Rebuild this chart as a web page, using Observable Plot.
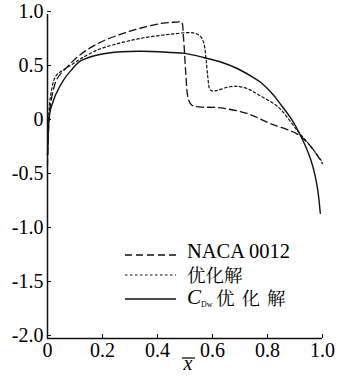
<!DOCTYPE html>
<html>
<head>
<meta charset="utf-8">
<script src="https://cdn.jsdelivr.net/npm/d3@7"></script>
<script src="https://cdn.jsdelivr.net/npm/@observablehq/plot@0.6"></script>
<style>
  body { margin: 0; background: white; }
  #wrap { position: relative; width: 346px; height: 376px; overflow: hidden; background: white; }
  #legend { position: absolute; left: 0; top: 0; }
</style>
</head>
<body>
<div id="wrap"></div>
<script>
// ---- data ----
const xTicks = [0, 0.2, 0.4, 0.6, 0.8, 1.0];
const xTickLabels = ["0", "0.2", "0.4", "0.6", "0.8", "1.0"];
const yTicks = [-2.0, -1.5, -1.0, -0.5, 0, 0.5, 1.0];
const yTickLabels = ["-2.0", "-1.5", "-1.0", "-0.5", "0", "0.5", "1.0"];

const seriesNames = ["NACA 0012", "优化解", "优化解"];

// NACA 0012 (dashed)
const nacaX = [0, 0.003, 0.008, 0.02, 0.036, 0.07, 0.12, 0.19, 0.27, 0.34, 0.42, 0.47, 0.487, 0.494, 0.503, 0.512, 0.525, 0.55, 0.63, 0.73, 0.81, 0.91, 0.96, 1.0];
const nacaY = [-0.4, -0.1, 0.1, 0.29, 0.41, 0.51, 0.63, 0.74, 0.82, 0.875, 0.92, 0.93, 0.93, 0.8, 0.45, 0.22, 0.16, 0.145, 0.135, 0.08, -0.01, -0.11, -0.23, -0.38];

// 优化解 (dotted)
const optX = [0, 0.003, 0.006, 0.012, 0.03, 0.06, 0.085, 0.12, 0.19, 0.27, 0.34, 0.44, 0.53, 0.555, 0.568, 0.576, 0.583, 0.59, 0.6, 0.62, 0.66, 0.69, 0.73, 0.765, 0.84, 0.91, 0.96, 0.995];
const optY = [-0.3, 0.0, 0.12, 0.26, 0.43, 0.49, 0.53, 0.59, 0.68, 0.74, 0.78, 0.815, 0.83, 0.8, 0.74, 0.6, 0.42, 0.31, 0.29, 0.3, 0.33, 0.335, 0.31, 0.26, 0.14, -0.08, -0.23, -0.35];

// CDw 优化解 (solid)
const cdwX = [0, 0.003, 0.006, 0.011, 0.02, 0.03, 0.06, 0.085, 0.12, 0.19, 0.27, 0.34, 0.45, 0.5, 0.57, 0.63, 0.69, 0.74, 0.776, 0.82, 0.85, 0.89, 0.92, 0.94, 0.958, 0.972, 0.983, 0.992];
const cdwY = [-0.3, -0.1, 0.04, 0.12, 0.19, 0.26, 0.4, 0.48, 0.57, 0.63, 0.655, 0.66, 0.648, 0.64, 0.6, 0.56, 0.5, 0.43, 0.37, 0.26, 0.16, 0.02, -0.12, -0.23, -0.35, -0.48, -0.63, -0.84];

const toRows = (xs, ys) => xs.map((x, i) => ({x, y: ys[i]}));
const naca = toRows(nacaX, nacaY);
const opt = toRows(optX, optY);
const cdw = toRows(cdwX, cdwY);

const ink = "#111";
const styles = [
  {stroke: ink, strokeWidth: 1.3, strokeDasharray: "7,4"},
  {stroke: ink, strokeWidth: 1.2, strokeDasharray: "2.5,2.5"},
  {stroke: ink, strokeWidth: 1.4, strokeDasharray: null}
];

const chart = Plot.plot({
  width: 346,
  height: 376,
  marginLeft: 47,
  marginRight: 24,
  marginTop: 14,
  marginBottom: 38,
  x: {domain: [0, 1]},
  y: {domain: [-2, 1]},
  style: {fontFamily: "Liberation Serif", fontSize: "20px", color: "black", background: "white"},
  marks: [
    Plot.axisX(xTicks, {tickFormat: (d, i) => xTickLabels[i], tickSize: -4, tickPadding: 8, label: null, stroke: ink, fill: "black"}),
    Plot.axisY(yTicks, {tickFormat: (d, i) => yTickLabels[i], tickSize: -4, tickPadding: 8, label: null, stroke: ink, fill: "black", dy: -3}),
    Plot.ruleX([0], {stroke: ink, strokeWidth: 1.5}),
    Plot.ruleY([-2], {stroke: ink, strokeWidth: 1.5}),
    Plot.line(naca, {x: "x", y: "y", curve: "catmull-rom", ...styles[0]}),
    Plot.line(opt, {x: "x", y: "y", curve: "catmull-rom", ...styles[1]}),
    Plot.line(cdw, {x: "x", y: "y", curve: "catmull-rom", ...styles[2]})
  ]
});
const wrap = document.getElementById("wrap");
wrap.appendChild(chart);

// legend overlay
const NS = "http://www.w3.org/2000/svg";
const leg = document.createElementNS(NS, "svg");
leg.setAttribute("id", "legend");
leg.setAttribute("width", 346);
leg.setAttribute("height", 376);
const rowsY = [255, 275, 299];
rowsY.forEach((yy, i) => {
  const l = document.createElementNS(NS, "line");
  l.setAttribute("x1", 125); l.setAttribute("x2", 176);
  l.setAttribute("y1", yy); l.setAttribute("y2", yy);
  l.setAttribute("stroke", styles[i].stroke);
  l.setAttribute("stroke-width", styles[i].strokeWidth);
  if (styles[i].strokeDasharray) l.setAttribute("stroke-dasharray", styles[i].strokeDasharray);
  leg.appendChild(l);
});
function txt(x, y, s, font, size, extra) {
  const t = document.createElementNS(NS, "text");
  t.setAttribute("x", x); t.setAttribute("y", y);
  t.setAttribute("font-family", font);
  t.setAttribute("font-size", size);
  t.setAttribute("fill", "black");
  if (extra) for (const k in extra) t.setAttribute(k, extra[k]);
  t.textContent = s;
  leg.appendChild(t);
  return t;
}
const serif = "'Liberation Serif', serif";
const cjk = "'Noto Serif CJK SC', 'Noto Sans CJK SC', serif";
txt(187, 258, seriesNames[0], serif, 20.5);
txt(187, 282, seriesNames[1], cjk, 18.5);
txt(187, 304, "C", serif, 21, {"font-style": "italic"});
txt(201, 307, "Dw", serif, 8);
txt(216, 305, seriesNames[2], cjk, 18.5, {"letter-spacing": "7"});
// x axis title (x with overbar)
txt(188, 370, "x", serif, 20, {"font-style": "italic", "text-anchor": "middle"});
const ob = document.createElementNS(NS, "line");
ob.setAttribute("x1", 182); ob.setAttribute("x2", 195);
ob.setAttribute("y1", 358); ob.setAttribute("y2", 358);
ob.setAttribute("stroke", ink); ob.setAttribute("stroke-width", 1.3);
leg.appendChild(ob);
wrap.appendChild(leg);
</script>
</body>
</html>
